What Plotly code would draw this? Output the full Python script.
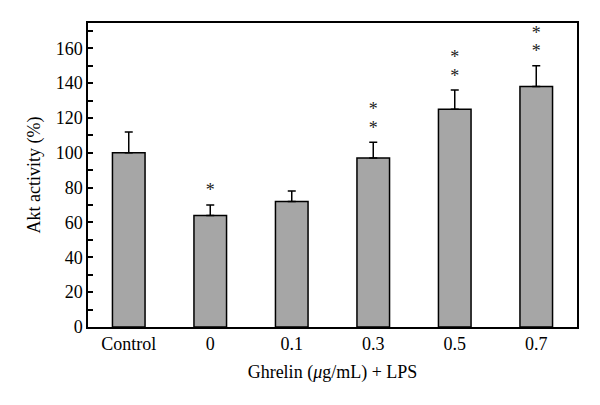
import plotly.graph_objects as go

categories = ["Control", "0", "0.1", "0.3", "0.5", "0.7"]
values = [100, 64, 72, 97, 125, 138]
errors = [12, 6, 6, 9, 11, 12]
signif = ["", "*", "", "**", "**", "**"]

FONT = "Liberation Serif"

fig = go.Figure()
fig.add_trace(go.Bar(
    x=categories, y=values, width=0.4,
    marker=dict(color="#a6a6a6", line=dict(color="black", width=1.5)),
    error_y=dict(type="data", symmetric=False, array=errors,
                 arrayminus=[0] * len(errors), color="black",
                 thickness=1.5, width=4),
    showlegend=False,
))

# significance asterisks stacked above error bars
sx, sy, st = [], [], []
for c, v, e, s in zip(categories, values, errors, signif):
    for k in range(len(s)):
        sx.append(c)
        sy.append(v + e + 7.5 + 10.5 * k)
        st.append("*")
fig.add_trace(go.Scatter(
    x=sx, y=sy, text=st, mode="text", textposition="middle center",
    textfont=dict(family=FONT, size=18, color="#222222"),
    showlegend=False, hoverinfo="skip",
))

fig.update_layout(
    width=600, height=405,
    margin=dict(l=88, r=23, t=23, b=78),
    plot_bgcolor="white", paper_bgcolor="white",
    font=dict(family=FONT, size=18, color="black"),
    bargap=0.6,
)
fig.update_xaxes(
    range=[-0.5, 5.5], showline=True, linecolor="black", linewidth=1.5,
    mirror=True, ticks="", showgrid=False, automargin=False,
    title=dict(text="Ghrelin (<i>μ</i>g/mL) + LPS", standoff=12,
               font=dict(family=FONT, size=18)),
)
fig.update_yaxes(
    range=[0, 174.5], dtick=20, tick0=0, showline=True, linecolor="black",
    linewidth=1.5, mirror=True, ticks="inside", ticklen=5, tickwidth=1.5,
    tickcolor="black", showgrid=False, zeroline=False, automargin=False,
    minor=dict(dtick=10, ticks="inside", ticklen=5, tickwidth=1.5,
               tickcolor="black", showgrid=False),
    title=dict(text="Akt activity (%)", standoff=10,
               font=dict(family=FONT, size=18)),
)

fig.write_html(
    "out.html",
    config={"displayModeBar": False},
    post_script="document.body.style.margin='0';document.body.style.padding='0';",
)
